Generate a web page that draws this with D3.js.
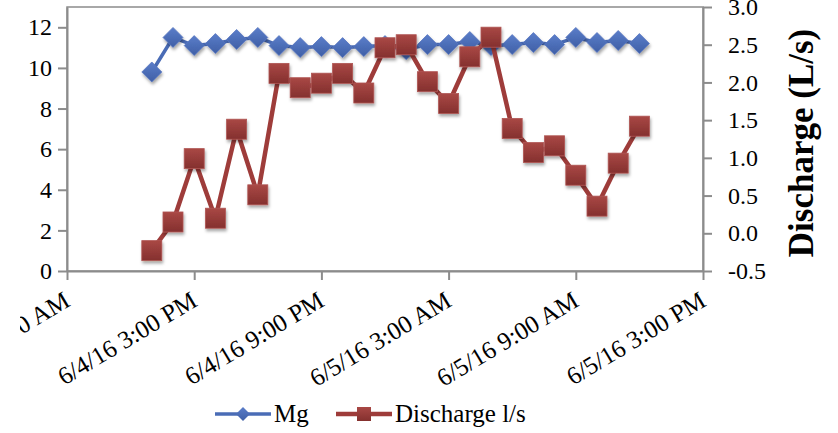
<!DOCTYPE html>
<html>
<head>
<meta charset="utf-8">
<script src="https://cdn.jsdelivr.net/npm/d3@7"></script>
<style>
  html, body { margin: 0; padding: 0; background: #fff; }
  svg { display: block; font-family: "Liberation Serif", "DejaVu Serif", serif; }
</style>
</head>
<body>
<svg id="chart" width="838" height="433"></svg>
<script>
// Hourly samples, 6/4/16 1:00 PM through 6/5/16 12:00 PM
const times = [
  "2016-06-04T13:00", "2016-06-04T14:00", "2016-06-04T15:00", "2016-06-04T16:00",
  "2016-06-04T17:00", "2016-06-04T18:00", "2016-06-04T19:00", "2016-06-04T20:00",
  "2016-06-04T21:00", "2016-06-04T22:00", "2016-06-04T23:00", "2016-06-05T00:00",
  "2016-06-05T01:00", "2016-06-05T02:00", "2016-06-05T03:00", "2016-06-05T04:00",
  "2016-06-05T05:00", "2016-06-05T06:00", "2016-06-05T07:00", "2016-06-05T08:00",
  "2016-06-05T09:00", "2016-06-05T10:00", "2016-06-05T11:00", "2016-06-05T12:00"
];
const mgValues = [
  9.8, 11.5, 11.1, 11.2, 11.4, 11.5, 11.1, 11.0, 11.05, 11.0, 11.05, 11.1,
  10.9, 11.15, 11.15, 11.3, 11.1, 11.15, 11.25, 11.15, 11.5, 11.25, 11.35, 11.2
];
const dischargeValues = [
  -0.23, 0.15, 0.99, 0.20, 1.38, 0.51, 2.12, 1.93, 1.99, 2.12, 1.86, 2.46,
  2.50, 2.01, 1.72, 2.34, 2.60, 1.39, 1.07, 1.16, 0.77, 0.36, 0.93, 1.42
];
const xTickTimes = [
  "2016-06-04T09:00", "2016-06-04T15:00", "2016-06-04T21:00",
  "2016-06-05T03:00", "2016-06-05T09:00", "2016-06-05T15:00"
];
const leftTicks = [0, 2, 4, 6, 8, 10, 12];
const rightTicks = [-0.5, 0, 0.5, 1, 1.5, 2, 2.5, 3];
const seriesNames = ["Mg", "Discharge l/s"];
const rightTitle = "Discharge (L/s)";

const parse = d3.timeParse("%Y-%m-%dT%H:%M");
const dates = times.map(parse);
const tickDates = xTickTimes.map(parse);

const svg = d3.select("#chart");
const plot = { left: 67, right: 703, top: 7, bottom: 271 };
const FONT = "Liberation Serif";

const x = d3.scaleTime()
  .domain([tickDates[0], tickDates[tickDates.length - 1]])
  .range([plot.left, plot.right]);
const yL = d3.scaleLinear().domain([0, 13]).range([plot.bottom, plot.top]);
const yR = d3.scaleLinear().domain([-0.5, 3.0]).range([plot.bottom, plot.top]);

const axisColor = "#8c8c8c";
const blue = "#4a6cb6";
const red = "#9e3c3a";

// defs: marker gradients, soft drop shadow, chart-area clip for date labels
const defs = svg.append("defs");
const shadow = defs.append("filter").attr("id", "shadow")
  .attr("x", "-50%").attr("y", "-50%").attr("width", "200%").attr("height", "200%");
shadow.append("feDropShadow").attr("dx", 1).attr("dy", 2.5).attr("stdDeviation", 1.6)
  .attr("flood-color", "#000").attr("flood-opacity", 0.35);

defs.append("clipPath").attr("id", "chartArea")
  .attr("clipPathUnits", "userSpaceOnUse")
  .append("rect").attr("x", 20).attr("y", 0).attr("width", 818).attr("height", 433);

function gradient(id, top, bottom) {
  const g = defs.append("linearGradient").attr("id", id)
    .attr("x1", 0).attr("y1", 0).attr("x2", 0).attr("y2", 1);
  g.append("stop").attr("offset", "0%").attr("stop-color", top);
  g.append("stop").attr("offset", "100%").attr("stop-color", bottom);
}
gradient("gBlue", "#5a7dc9", "#3f5fa6");
gradient("gRed", "#a94845", "#84302e");

// plot frame
svg.append("rect")
  .attr("x", plot.left).attr("y", plot.top)
  .attr("width", plot.right - plot.left).attr("height", plot.bottom - plot.top)
  .attr("fill", "none").attr("stroke", axisColor).attr("stroke-width", 1.5);

function styleAxis(g) {
  g.attr("font-family", FONT).attr("font-size", 24);
  g.select(".domain").attr("stroke", axisColor).attr("stroke-width", 2);
  g.selectAll(".tick line").attr("stroke", axisColor).attr("stroke-width", 2);
  g.selectAll(".tick text").attr("fill", "#000");
}

// left axis
svg.append("g")
  .attr("transform", `translate(${plot.left},0)`)
  .call(d3.axisLeft(yL).tickValues(leftTicks).tickSize(9).tickPadding(6).tickSizeOuter(0))
  .call(styleAxis);

// right axis (plain hyphen for the negative tick)
const fmtR = d => d3.format(".1f")(d).replace("\u2212", "-");
svg.append("g")
  .attr("transform", `translate(${plot.right},0)`)
  .call(d3.axisRight(yR).tickValues(rightTicks).tickFormat(fmtR).tickSize(9).tickPadding(16).tickSizeOuter(0))
  .call(styleAxis);

// bottom axis with slanted date labels
const fmt = d => `${d.getMonth() + 1}/${d.getDate()}/${String(d.getFullYear()).slice(2)} ` +
  d3.timeFormat("%-I:%M %p")(d);
const xWrap = svg.append("g").attr("clip-path", "url(#chartArea)");
const xAxisG = xWrap.append("g")
  .attr("transform", `translate(0,${plot.bottom})`)
  .call(d3.axisBottom(x).tickValues(tickDates).tickFormat(fmt).tickSize(9).tickSizeOuter(0))
  .call(styleAxis);
xAxisG.selectAll(".tick text")
  .attr("font-size", 25)
  .attr("text-anchor", "end")
  .attr("dy", null)
  .attr("y", null)
  .attr("transform", "translate(4,34) rotate(-31)");

// series lines
const lineMg = d3.line().x((d, i) => x(dates[i])).y(d => yL(d));
const lineQ = d3.line().x((d, i) => x(dates[i])).y(d => yR(d));

svg.append("path").datum(mgValues)
  .attr("d", lineMg).attr("fill", "none")
  .attr("stroke", blue).attr("stroke-width", 3.5).attr("stroke-linejoin", "round");

svg.append("g").selectAll("path").data(mgValues).join("path")
  .attr("d", "M0,-10 L10,0 L0,10 L-10,0 Z")
  .attr("transform", (d, i) => `translate(${x(dates[i])},${yL(d)})`)
  .attr("fill", "url(#gBlue)").attr("stroke", "#5876c0").attr("stroke-width", 0.8)
  .attr("filter", "url(#shadow)");

svg.append("path").datum(dischargeValues)
  .attr("d", lineQ).attr("fill", "none")
  .attr("stroke", red).attr("stroke-width", 4.5).attr("stroke-linejoin", "round");

svg.append("g").selectAll("rect").data(dischargeValues).join("rect")
  .attr("x", (d, i) => x(dates[i]) - 10).attr("y", d => yR(d) - 10)
  .attr("width", 20).attr("height", 20)
  .attr("fill", "url(#gRed)").attr("stroke", "#b05654").attr("stroke-width", 0.8)
  .attr("filter", "url(#shadow)");

// right axis title
svg.append("text")
  .attr("transform", "translate(813,143) rotate(-90)")
  .attr("text-anchor", "middle")
  .attr("font-size", 35).attr("font-weight", "bold")
  .attr("font-family", FONT)
  .text(rightTitle);

// legend
const legend = svg.append("g").attr("font-size", 25).attr("font-family", FONT);
const lg1 = legend.append("g").attr("transform", "translate(215,414)");
lg1.append("line").attr("x1", 0).attr("x2", 56).attr("stroke", blue).attr("stroke-width", 3.5);
lg1.append("path").attr("d", "M0,-7 L7,0 L0,7 L-7,0 Z").attr("transform", "translate(28,0)")
  .attr("fill", "url(#gBlue)");
lg1.append("text").attr("x", 59).attr("y", 8).text(seriesNames[0]);

const lg2 = legend.append("g").attr("transform", "translate(336,414)");
lg2.append("line").attr("x1", 0).attr("x2", 56).attr("stroke", red).attr("stroke-width", 4.5);
lg2.append("rect").attr("x", 21).attr("y", -7).attr("width", 14).attr("height", 14)
  .attr("fill", "url(#gRed)");
lg2.append("text").attr("x", 59).attr("y", 8).text(seriesNames[1]);
</script>
</body>
</html>
